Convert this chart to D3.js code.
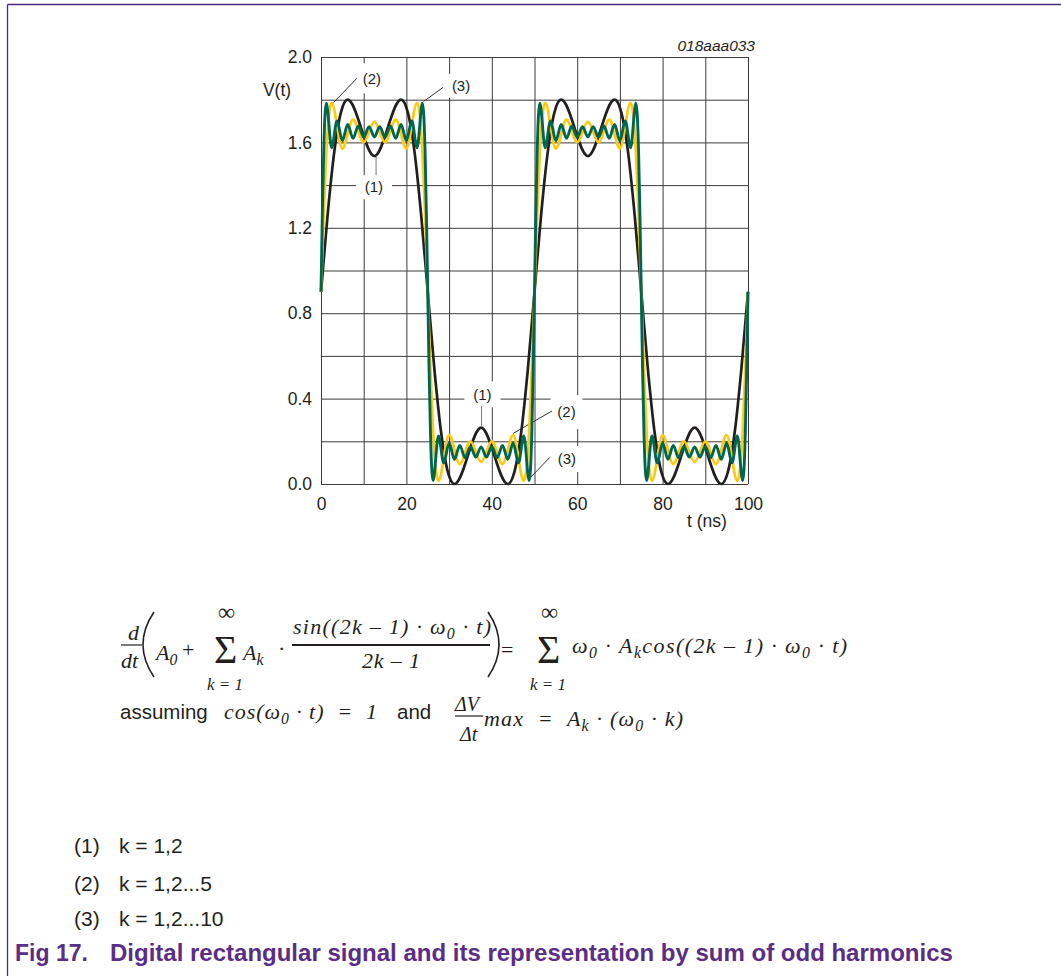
<!DOCTYPE html>
<html>
<head>
<meta charset="utf-8">
<script src="https://cdn.jsdelivr.net/npm/d3@7"></script>
<style>
  body { margin: 0; background: #fff; }
  text { font-family: "Liberation Sans", Arial, sans-serif; fill: #231f20; white-space: pre; }
  .math { font-family: "Liberation Serif", "Times New Roman", serif; font-style: italic; }
  .up { font-family: "Liberation Serif", "Times New Roman", serif; }
</style>
</head>
<body>
<svg id="chart" width="1061" height="976"></svg>
<script>
// grid and tick values
const xGrid = [0, 10, 20, 30, 40, 50, 60, 70, 80, 90, 100];
const xLabels = [0, 20, 40, 60, 80, 100];
const yGrid = [0, 0.2, 0.4, 0.6, 0.8, 1.0, 1.2, 1.4, 1.6, 1.8, 2.0];
const yLabels = [0, 0.4, 0.8, 1.2, 1.6, 2.0];

// (1) k = 1,2  (extremes and a few points on the edges)
const seriesK2 = [
    [0, 0.900], [1.56, 1.263], [3.13, 1.559], [4.69, 1.742], [6.25, 1.800], [12.5, 1.536], [18.75, 1.800], [20.31, 1.742], [21.88, 1.559], [23.44, 1.263],
    [25, 0.900], [26.56, 0.537], [28.13, 0.241], [29.69, 0.058], [31.25, 0.000], [37.5, 0.264], [43.75, 0.000], [45.31, 0.058], [46.88, 0.241], [48.44, 0.537],
    [50, 0.900], [51.56, 1.263], [53.13, 1.559], [54.69, 1.742], [56.25, 1.800], [62.5, 1.536], [68.75, 1.800], [70.31, 1.742], [71.88, 1.559], [73.44, 1.263],
    [75, 0.900], [76.56, 0.537], [78.13, 0.241], [79.69, 0.058], [81.25, 0.000], [87.5, 0.264], [93.75, 0.000], [95.31, 0.058], [96.88, 0.241], [98.44, 0.537],
    [100, 0.900]
];

// (2) k = 1,2...5
const seriesK5 = [
    [0, 0.900], [0.63, 1.262], [1.25, 1.555], [1.88, 1.730], [2.5, 1.785], [5, 1.571], [7.5, 1.707], [10, 1.600], [12.5, 1.697], [15, 1.600], [17.5, 1.707], [20, 1.571], [22.5, 1.785], [23.13, 1.730], [23.75, 1.555], [24.38, 1.262],
    [25, 0.900], [25.63, 0.538], [26.25, 0.245], [26.88, 0.070], [27.5, 0.015], [30, 0.229], [32.5, 0.093], [35, 0.200], [37.5, 0.103], [40, 0.200], [42.5, 0.093], [45, 0.229], [47.5, 0.015], [48.13, 0.070], [48.75, 0.245], [49.38, 0.538],
    [50, 0.900], [50.63, 1.262], [51.25, 1.555], [51.88, 1.730], [52.5, 1.785], [55, 1.571], [57.5, 1.707], [60, 1.600], [62.5, 1.697], [65, 1.600], [67.5, 1.707], [70, 1.571], [72.5, 1.785], [73.13, 1.730], [73.75, 1.555], [74.38, 1.262],
    [75, 0.900], [75.63, 0.538], [76.25, 0.245], [76.88, 0.070], [77.5, 0.015], [80, 0.229], [82.5, 0.093], [85, 0.200], [87.5, 0.103], [90, 0.200], [92.5, 0.093], [95, 0.229], [97.5, 0.015], [98.13, 0.070], [98.75, 0.245], [99.38, 0.538],
    [100, 0.900]
];

// (3) k = 1,2...10
const seriesK10 = [
    [0, 0.900], [0.31, 1.262], [0.63, 1.554], [0.94, 1.730], [1.25, 1.784], [2.5, 1.575], [3.75, 1.701], [5, 1.608], [6.25, 1.684], [7.5, 1.619], [8.75, 1.677], [10, 1.624], [11.25, 1.674], [12.5, 1.626],
    [13.75, 1.674], [15, 1.624], [16.25, 1.677], [17.5, 1.619], [18.75, 1.684], [20, 1.608], [21.25, 1.701], [22.5, 1.575], [23.75, 1.784], [24.06, 1.730], [24.38, 1.554], [24.69, 1.262],
    [25, 0.900], [25.31, 0.538], [25.63, 0.246], [25.94, 0.070], [26.25, 0.016], [27.5, 0.225], [28.75, 0.099], [30, 0.192], [31.25, 0.116], [32.5, 0.181], [33.75, 0.123], [35, 0.176], [36.25, 0.126], [37.5, 0.174],
    [38.75, 0.126], [40, 0.176], [41.25, 0.123], [42.5, 0.181], [43.75, 0.116], [45, 0.192], [46.25, 0.099], [47.5, 0.225], [48.75, 0.016], [49.06, 0.070], [49.38, 0.246], [49.69, 0.538],
    [50, 0.900], [50.31, 1.262], [50.63, 1.554], [50.94, 1.730], [51.25, 1.784], [52.5, 1.575], [53.75, 1.701], [55, 1.608], [56.25, 1.684], [57.5, 1.619], [58.75, 1.677], [60, 1.624], [61.25, 1.674], [62.5, 1.626],
    [63.75, 1.674], [65, 1.624], [66.25, 1.677], [67.5, 1.619], [68.75, 1.684], [70, 1.608], [71.25, 1.701], [72.5, 1.575], [73.75, 1.784], [74.06, 1.730], [74.38, 1.554], [74.69, 1.262],
    [75, 0.900], [75.31, 0.538], [75.63, 0.246], [75.94, 0.070], [76.25, 0.016], [77.5, 0.225], [78.75, 0.099], [80, 0.192], [81.25, 0.116], [82.5, 0.181], [83.75, 0.123], [85, 0.176], [86.25, 0.126], [87.5, 0.174],
    [88.75, 0.126], [90, 0.176], [91.25, 0.123], [92.5, 0.181], [93.75, 0.116], [95, 0.192], [96.25, 0.099], [97.5, 0.225], [98.75, 0.016], [99.06, 0.070], [99.38, 0.246], [99.69, 0.538],
    [100, 0.900]
];

const legendLabels = ["(1)", "(2)", "(3)"];
const legendTexts = ["k = 1,2", "k = 1,2...5", "k = 1,2...10"];

const svg = d3.select("#chart");

// page frame
svg.append("line").attr("x1", 7.5).attr("y1", 4.5).attr("x2", 1061).attr("y2", 4.5)
    .attr("stroke", "#4e2a84").attr("stroke-width", 1.3);
svg.append("line").attr("x1", 7.5).attr("y1", 4.5).attr("x2", 7.5).attr("y2", 976)
    .attr("stroke", "#4e2a84").attr("stroke-width", 1.3);

const x = d3.scaleLinear().domain([0, 100]).range([321, 748]);
const y = d3.scaleLinear().domain([0, 2]).range([484, 57]);

// grid with labels via axes
const xAxis = svg.append("g")
    .attr("transform", `translate(0,${y(0)})`)
    .call(d3.axisBottom(x).tickValues(xGrid).tickSize(-(y(0) - y(2))).tickPadding(14)
        .tickFormat((d) => (xLabels.includes(d) ? d : "")));
const yAxis = svg.append("g")
    .attr("transform", `translate(${x(0)},0)`)
    .call(d3.axisLeft(y).tickValues(yGrid).tickSize(-(x(100) - x(0))).tickPadding(9)
        .tickFormat((d) => (yLabels.some((v) => Math.abs(v - d) < 1e-9) ? d3.format(".1f")(d) : "")));

[xAxis, yAxis].forEach((g) => {
    g.select(".domain").remove();
    g.selectAll(".tick line").attr("stroke", "#3c3c3c").attr("stroke-width", 1);
    g.selectAll(".tick text").style("font-size", "17.5px").attr("fill", "#231f20");
});

svg.append("text").attr("x", 277).attr("y", 96).attr("text-anchor", "middle")
    .style("font-size", "17.5px").text("V(t)");
svg.append("text").attr("x", 707).attr("y", 527).attr("text-anchor", "middle")
    .style("font-size", "17.5px").text("t (ns)");
svg.append("text").attr("x", 755).attr("y", 51).attr("text-anchor", "end")
    .style("font-size", "15.5px").style("font-style", "italic").attr("fill", "#333").text("018aaa033");

// curve labels with leader lines (positions in data units)
const notes = [
    { text: "(2)", at: [11.9, 1.90], from: [8.4, 1.90], to: [2.9, 1.786], box: [34, 30] },
    { text: "(3)", at: [32.8, 1.865], from: [28.6, 1.858], to: [24.0, 1.791], box: [32, 24] },
    { text: "(1)", at: [12.4, 1.39], from: [12.9, 1.447], to: [12.9, 1.532], box: [36, 24] },
    { text: "(1)", at: [37.8, 0.42], from: [37.6, 0.366], to: [37.6, 0.272], box: [36, 26] },
    { text: "(2)", at: [57.5, 0.337], from: [54.1, 0.342], to: [45.0, 0.237], box: [32, 34] },
    { text: "(3)", at: [57.6, 0.117], from: [53.6, 0.125], to: [48.9, 0.027], box: [32, 26] }
];

svg.append("g").selectAll("rect").data(notes).enter().append("rect")
    .attr("x", (d) => x(d.at[0]) - d.box[0] / 2)
    .attr("y", (d) => y(d.at[1]) - d.box[1] / 2)
    .attr("width", (d) => d.box[0])
    .attr("height", (d) => d.box[1])
    .attr("fill", "#fff");

svg.append("g").selectAll("line").data(notes).enter().append("line")
    .attr("x1", (d) => x(d.from[0])).attr("y1", (d) => y(d.from[1]))
    .attr("x2", (d) => x(d.to[0])).attr("y2", (d) => y(d.to[1]))
    .attr("stroke", (d) => (d.from[0] === d.to[0] ? "#777" : "#333"))
    .attr("stroke-width", 1);

svg.append("g").selectAll("text").data(notes).enter().append("text")
    .attr("x", (d) => x(d.at[0])).attr("y", (d) => y(d.at[1]))
    .attr("dy", "0.35em").attr("text-anchor", "middle")
    .style("font-size", "15px").attr("fill", "#333")
    .text((d) => d.text);

// the three sums
const curves = [
    { points: seriesK2, color: "#231f20", width: 2.7 },
    { points: seriesK5, color: "#ffc90e", width: 2.7 },
    { points: seriesK10, color: "#00664e", width: 2.9 }
];
const line = d3.line().x((d) => x(d[0])).y((d) => y(d[1])).curve(d3.curveMonotoneX);

svg.append("g").selectAll("path").data(curves).enter().append("path")
    .attr("d", (d) => line(d.points))
    .attr("fill", "none")
    .attr("stroke", (d) => d.color)
    .attr("stroke-width", (d) => d.width)
    .attr("stroke-linejoin", "round");

// formula
function addText(px, py, parts, cls, size, len) {
    const t = svg.append("text").attr("x", px).attr("y", py).attr("class", cls).style("font-size", size + "px");
    let shifted = false;
    parts.forEach((p) => {
        const sub = Array.isArray(p);
        const span = t.append("tspan").text(sub ? p[0] : p);
        if (sub) {
            span.attr("dy", 5).style("font-size", size * 0.72 + "px");
            shifted = true;
        } else if (shifted) {
            span.attr("dy", -5);
            shifted = false;
        }
    });
    if (len) t.attr("textLength", len).attr("lengthAdjust", "spacing");
    return t;
}
function bar(x1, x2, py, w) {
    svg.append("line").attr("x1", x1).attr("x2", x2).attr("y1", py).attr("y2", py)
        .attr("stroke", "#231f20").attr("stroke-width", w);
}

addText(128, 640, ["d"], "math", 22);
bar(121, 142, 645, 1.2);
addText(121, 668, ["dt"], "math", 22);
svg.append("path").attr("d", "M154,612 Q132,644.5 154,677").attr("fill", "none").attr("stroke", "#231f20").attr("stroke-width", 1.6);
addText(156, 660, ["A", ["0"]], "math", 22);
addText(182, 657, ["+"], "up", 22);
addText(218, 620, ["∞"], "up", 24);
addText(214, 663, ["Σ"], "up", 40);
addText(207, 690, ["k = 1"], "math", 17);
addText(243, 660, ["A", ["k"]], "math", 22);
addText(278, 656, ["·"], "up", 22);
addText(293, 634, ["sin((2k – 1) · ω", ["0"], " · t)"], "math", 22, 198);
bar(292, 490, 645, 1.8);
addText(362, 668, ["2k – 1"], "math", 22, 58);
svg.append("path").attr("d", "M488,612 Q510,644.5 488,677").attr("fill", "none").attr("stroke", "#231f20").attr("stroke-width", 1.6);
addText(501, 657, ["="], "up", 22);
addText(541, 620, ["∞"], "up", 24);
addText(537, 663, ["Σ"], "up", 40);
addText(530, 690, ["k = 1"], "math", 17);
addText(572, 653, ["ω", ["0"], " · A", ["k"], "cos((2k – 1) · ω", ["0"], " · t)"], "math", 22, 275);

svg.append("text").attr("x", 120).attr("y", 719).style("font-size", "20.5px").text("assuming");
addText(224, 719, ["cos(ω", ["0"], " · t)  =  1"], "math", 22, 153);
svg.append("text").attr("x", 397).attr("y", 719).style("font-size", "20.5px").text("and");
addText(455, 711, ["ΔV"], "math", 20);
bar(455, 483, 716, 1.2);
addText(460, 741, ["Δt"], "math", 20);
addText(484, 726, ["max  =  A", ["k"], " · (ω", ["0"], " · k)"], "math", 22, 199);

// legend list
const listY = [853, 891, 926];
legendLabels.forEach((lab, i) => {
    svg.append("text").attr("x", 74).attr("y", listY[i]).style("font-size", "21px").text(lab);
    svg.append("text").attr("x", 119).attr("y", listY[i]).style("font-size", "21px").text(legendTexts[i]);
});

// caption
svg.append("text").attr("x", 15).attr("y", 961).style("font-size", "23px").style("font-weight", "bold")
    .style("fill", "#5a2d86").text("Fig 17.");
svg.append("text").attr("x", 110).attr("y", 961).style("font-size", "24px").style("font-weight", "bold")
    .style("fill", "#5a2d86").text("Digital rectangular signal and its representation by sum of odd harmonics");
</script>
</body>
</html>
